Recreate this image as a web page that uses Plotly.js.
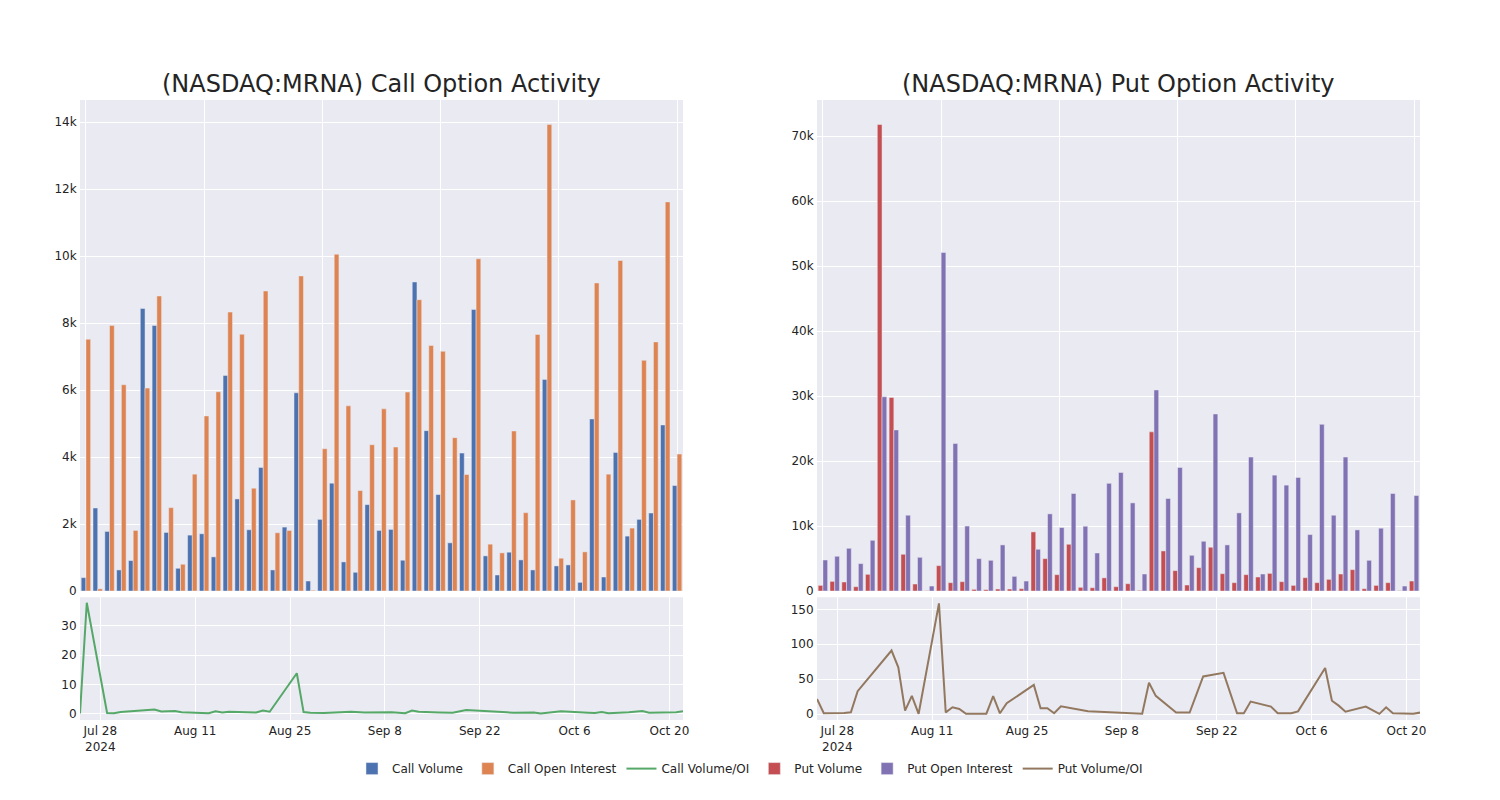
<!DOCTYPE html>
<html>
<head>
<meta charset="utf-8">
<script src="https://cdn.plot.ly/plotly-3.0.1.min.js"></script>
<style>html,body{margin:0;padding:0;background:#fff;}#chart{width:1500px;height:800px;}</style>
</head>
<body>
<div id="chart"></div>
<script>
const dates = ["2024-07-25","2024-07-26","2024-07-29","2024-07-30","2024-07-31","2024-08-05","2024-08-06","2024-08-07","2024-08-08","2024-08-09","2024-08-12","2024-08-13","2024-08-14","2024-08-15","2024-08-16","2024-08-19","2024-08-20","2024-08-21","2024-08-22","2024-08-26","2024-08-27","2024-08-28","2024-08-29","2024-08-30","2024-09-03","2024-09-05","2024-09-09","2024-09-11","2024-09-12","2024-09-13","2024-09-16","2024-09-18","2024-09-20","2024-09-23","2024-09-25","2024-09-26","2024-09-27","2024-09-30","2024-10-01","2024-10-03","2024-10-04","2024-10-08","2024-10-09","2024-10-10","2024-10-11","2024-10-14","2024-10-16","2024-10-17","2024-10-18","2024-10-21","2024-10-22"];

const callVolume = [400,2480,1780,630,910,8440,7930,1750,680,1670,1710,1020,6440,2750,1830,3690,630,1910,5920,300,2140,3220,870,560,2580,1810,1840,920,9230,4790,2880,1440,4120,8410,1050,480,1160,930,630,6320,750,780,260,5140,420,4140,1640,2140,2330,4960,3150];
const callOI = [7520,65,7930,6160,1810,6060,8810,2490,800,3490,5230,5950,8330,7670,3070,8960,1740,1810,9410,22,4250,10060,5530,3000,4370,5440,4300,5940,8700,7330,7160,4580,3480,9920,1400,1140,4780,2340,7660,13930,980,2720,1170,9200,3490,9870,1880,6890,7440,11620,4090];
const callRatio = [0.05,37.9,0.22,0.1,0.5,1.4,0.7,0.7,0.85,0.48,0.33,0.1,0.77,0.36,0.6,0.41,0.36,1.06,0.63,13.8,0.5,0.32,0.16,0.19,0.59,0.33,0.43,0.15,1.06,0.65,0.4,0.31,1.18,0.85,0.75,0.42,0.24,0.4,0.05,0.45,0.77,0.29,0.22,0.56,0.12,0.42,0.87,0.31,0.31,0.43,0.77];

const putVolume = [870,1490,1390,670,2570,71800,29800,5660,1080,50,3910,1290,1440,260,210,310,310,360,9100,4990,2520,7200,570,510,2030,670,1130,100,24500,6170,3140,930,3600,6740,2670,1290,2520,2160,2720,1440,870,2060,1290,1800,2620,3290,360,870,1290,50,1540];
const putOI = [4780,5350,6580,4220,7810,29900,24800,11670,5190,770,52100,22700,10000,4990,4730,7100,2260,1540,6430,11880,9770,15010,9970,5860,16580,18250,13570,2620,30950,14240,19020,5500,7660,27250,7100,12030,20620,2620,17840,16300,17480,8690,25660,11670,20620,9410,4730,9670,15010,770,14700];
const putRatio = [21.6,1,1.4,2.4,32.7,91,67,4.8,26,0.3,158.6,2.4,9.6,7.2,0.2,0.5,25.5,1,15.4,41.8,8.2,8.2,1,11,3.8,2.97,1.33,0.5,44.7,26,2,2,53.8,59,1,1,17.8,10.6,1,1,3.8,66,19,12,3.4,10.6,0.2,9.6,1,0.3,2];

const titles = ["(NASDAQ:MRNA) Call Option Activity", "(NASDAQ:MRNA) Put Option Activity"];

const C = {
  callVol: "rgb(76,114,176)", callOI: "rgb(221,132,82)", callRatio: "rgb(85,168,104)",
  putVol: "rgb(196,78,82)", putOI: "rgb(129,114,179)", putRatio: "rgb(147,120,96)"
};
const barLine = {color: "rgb(234,234,242)", width: 0.5};

const traces = [
  {type: "bar", name: "Call Volume", x: dates, y: callVolume, xaxis: "x", yaxis: "y", marker: {color: C.callVol, line: barLine}},
  {type: "bar", name: "Call Open Interest", x: dates, y: callOI, xaxis: "x", yaxis: "y", marker: {color: C.callOI, line: barLine}},
  {type: "scatter", mode: "lines", name: "Call Volume/OI", x: dates, y: callRatio, xaxis: "x3", yaxis: "y3", line: {color: C.callRatio, width: 2}},
  {type: "bar", name: "Put Volume", x: dates, y: putVolume, xaxis: "x2", yaxis: "y2", marker: {color: C.putVol, line: barLine}},
  {type: "bar", name: "Put Open Interest", x: dates, y: putOI, xaxis: "x2", yaxis: "y2", marker: {color: C.putOI, line: barLine}},
  {type: "scatter", mode: "lines", name: "Put Volume/OI", x: dates, y: putRatio, xaxis: "x4", yaxis: "y4", line: {color: C.putRatio, width: 2}}
];

const gridAxis = {gridcolor: "white", linecolor: "white", zerolinecolor: "white", showgrid: true, ticks: "", automargin: false};
const topX = Object.assign({}, gridAxis, {type: "category", showticklabels: false, tickmode: "linear", tick0: 0, dtick: 10, zeroline: false});
const botX = Object.assign({}, gridAxis, {type: "date", zeroline: false});
const yAx = Object.assign({}, gridAxis, {zeroline: true, zerolinewidth: 1});

const layout = {
  width: 1500, height: 800,
  margin: {l: 80, r: 80, t: 100, b: 80},
  paper_bgcolor: "white", plot_bgcolor: "rgb(234,234,242)",
  font: {family: "DejaVu Sans, sans-serif", size: 12, color: "rgb(36,36,36)"},
  barmode: "group", bargap: 0.2,
  showlegend: true,
  legend: {orientation: "h", x: 0.5, xanchor: "center", y: -0.055, yanchor: "top", font: {size: 12}},
  xaxis: Object.assign({}, topX, {domain: [0, 0.45], anchor: "y"}),
  xaxis2: Object.assign({}, topX, {domain: [0.55, 1], anchor: "y2"}),
  xaxis3: Object.assign({}, botX, {domain: [0, 0.45], anchor: "y3"}),
  xaxis4: Object.assign({}, botX, {domain: [0.55, 1], anchor: "y4"}),
  yaxis: Object.assign({}, yAx, {domain: [0.208, 1], anchor: "x"}),
  yaxis2: Object.assign({}, yAx, {domain: [0.208, 1], anchor: "x2"}),
  yaxis3: Object.assign({}, yAx, {domain: [0, 0.198], anchor: "x3", range: [-2.2, 39.8]}),
  yaxis4: Object.assign({}, yAx, {domain: [0, 0.198], anchor: "x4"}),
  annotations: [
    {text: titles[0], x: 0.225, y: 1, xref: "paper", yref: "paper", xanchor: "center", yanchor: "bottom", showarrow: false, font: {size: 24}},
    {text: titles[1], x: 0.775, y: 1, xref: "paper", yref: "paper", xanchor: "center", yanchor: "bottom", showarrow: false, font: {size: 24}}
  ]
};

Plotly.newPlot("chart", traces, layout, {displayModeBar: false, responsive: false});
</script>
</body>
</html>
